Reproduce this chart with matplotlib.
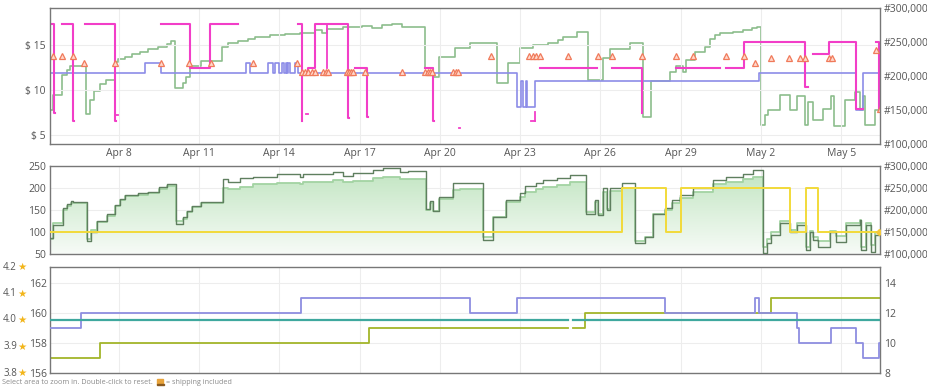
import numpy as np
import matplotlib
matplotlib.use('Agg')
import matplotlib.pyplot as plt
import matplotlib.transforms as mtransforms
from matplotlib.colors import LinearSegmentedColormap
from matplotlib.patches import Rectangle

# Plot settings
plt.rcParams['font.family'] = ['Open Sans', 'DejaVu Sans']
plt.rcParams['font.size'] = 7.5

# x axis: day of month, Apr 1 = 1, May 2 = 32
XMIN, XMAX = 5.43, 36.45
TICK_DAYS = [8, 11, 14, 17, 20, 23, 26, 29, 32, 35]
TICK_LABELS = ['Apr 8', 'Apr 11', 'Apr 14', 'Apr 17', 'Apr 20', 'Apr 23',
               'Apr 26', 'Apr 29', 'May 2', 'May 5']

# ---- top panel: sales rank (thousands, right axis) ----
rank_days = [5.43, 5.56, 5.87, 6.06, 6.18, 6.78, 6.93, 7.09, 7.28, 7.53,
             7.86, 7.99, 8.24, 8.49, 8.80, 9.11, 9.48, 9.79, 9.94, 10.12,
             10.40, 10.53, 10.65, 11.09, 11.86, 12.08, 12.46, 12.83, 13.09, 13.65,
             14.21, 14.77, 15.33, 15.59, 15.78, 16.38, 17.09, 17.46, 17.84, 18.21,
             18.58, 19.44, 19.74, 19.95, 20.56, 21.12, 22.12, 22.55, 22.99, 23.49,
             24.04, 24.41, 24.60, 25.11, 25.54, 26.10, 26.35, 27.10, 27.60, 27.91,
             28.59, 28.84, 29.09, 29.19, 29.53, 29.90, 30.09, 30.28, 30.46, 30.95,
             31.32, 31.66, 31.84, 32.02, 32.14, 32.26, 32.70, 33.08, 33.33, 33.64,
             33.76, 33.95, 34.32, 34.63, 34.72, 35.13, 35.50, 35.69, 35.80, 35.88,
             36.25, 36.45]
rank_vals = [150, 172, 201, 209, 215, 144, 165, 178, 188, 194,
             221, 225, 228, 233, 236, 239, 243, 247, 252, 182,
             190, 199, 215, 222, 243, 248, 251, 254, 258, 260,
             262, 263, 268, 263, 269, 272, 274, 270, 275, 277,
             272, 212, 199, 228, 241, 249, 189, 219, 241, 246,
             249, 253, 257, 264, 194, 226, 239, 249, 140, 192,
             206, 215, 206, 223, 236, 243, 255, 260, 263, 265,
             268, 271, 272, 128, 143, 150, 172, 150, 170, 128,
             162, 135, 152, 170, 126, 165, 177, 150, 171, 128,
             150, 150]

# new price ($)
new_days = [5.43, 8.98, 9.57, 12.74, 12.92, 13.59, 13.78, 13.84, 13.99, 14.09,
            14.19, 14.24, 14.30, 14.33, 14.40, 14.60, 14.71, 22.87, 23.02, 23.12,
            23.21, 23.27, 23.55, 31.92, 35.57, 35.82, 36.45]
new_vals = [11.9, 13.0, 11.9, 13.0, 11.9, 13.0, 11.9, 13.0, 11.9, 13.0,
            11.9, 13.0, 11.9, 13.0, 11.9, 13.0, 11.9, 8.1, 11.0, 8.1,
            11.0, 8.1, 11.0, 11.9, 7.8, 11.9, 11.9]

# buy box ($), nan = no data
nan = np.nan
bb_days = [5.43, 5.58, 5.62, 5.86, 6.29, 6.31, 6.73, 7.85, 7.88,
           9.59, 10.65, 11.42, 12.46, 14.71, 14.84, 14.85,
           14.85, 15.08, 15.33, 16.58, 16.60, 16.83, 17.26, 17.33,
           19.44, 19.75, 19.78, 23.74, 25.86, 26.42, 27.54, 27.57,
           28.84, 30.46, 30.71, 31.36, 33.64, 33.76,
           33.93, 34.54, 35.57, 35.82, 36.31, 36.42, 36.45]
bb_vals = [17.3, 7.4, nan, 17.3, 6.5, nan, 17.3, 6.5, nan,
           17.3, 12.45, 17.3, nan, 17.3, 6.5, nan,
           11.85, 12.4, 17.3, 6.85, nan, 12.4, 7.0, nan,
           12.4, 6.5, nan, 12.4, nan, 12.4, 7.4, nan,
           12.4, nan, 12.4, 15.3, 10.3, nan,
           14.0, 15.3, 7.85, nan, 15.3, 7.85, nan]
# short buy box fragments: x0, x1, y0, y1
bit_x0 = [7.86, 15.00, 20.71, 23.40, 23.57, 15.77]
bit_x1 = [7.97, 15.07, 20.76, 23.57, 23.57, 15.77]
bit_y0 = [7.2, 7.3, 5.8, 6.5, 6.5, 12.4]
bit_y1 = [7.2, 7.3, 5.8, 6.5, 7.5, 17.3]

# offer markers ($)
tri_days = [5.56, 5.87, 6.30, 6.71, 7.86, 9.58, 10.63, 11.44, 13.01, 14.65,
            14.84, 14.96, 15.08, 15.21, 15.33, 15.64, 15.74, 15.83, 16.52, 16.60,
            16.68, 16.76, 17.20, 18.57, 19.44, 19.54, 19.63, 19.72, 20.50, 20.60,
            20.69, 21.93, 23.34, 23.48, 23.61, 23.74, 24.80, 25.92, 26.42, 27.57,
            28.84, 29.46, 30.69, 31.37, 31.77, 32.36, 33.04, 33.45, 33.64, 34.54,
            34.65, 36.29, 36.44]
tri_vals = [13.8, 13.8, 13.8, 13.0, 13.0, 13.0, 13.0, 13.0, 13.0, 13.0,
            12.0, 12.0, 12.0, 12.0, 12.0, 12.0, 12.0, 12.0, 12.0, 12.0,
            12.0, 12.0, 12.0, 12.0, 12.0, 12.0, 12.0, 12.0, 12.0, 12.0,
            12.0, 13.8, 13.8, 13.8, 13.8, 13.8, 13.8, 13.8, 13.8, 13.8,
            13.8, 13.8, 13.8, 13.8, 13.0, 13.5, 13.5, 13.5, 13.5, 13.5,
            13.5, 14.4, 7.85]

# ---- middle panel ----
mid_days = [5.43, 5.56, 5.91, 6.06, 6.21, 6.30, 6.80, 6.95, 7.18, 7.55,
            7.86, 8.05, 8.24, 8.73, 9.11, 9.52, 9.79, 10.13, 10.41, 10.56,
            10.73, 11.06, 11.89, 12.09, 12.53, 13.03, 13.90, 14.77, 14.90, 16.02,
            16.39, 16.76, 17.51, 17.88, 18.51, 18.82, 19.48, 19.63, 19.75, 19.98,
            20.50, 20.75, 21.62, 21.99, 22.49, 22.99, 23.18, 23.61, 23.86, 24.36,
            24.86, 25.46, 25.79, 25.92, 26.10, 26.23, 26.35, 26.79, 27.29, 27.66,
            27.97, 28.41, 28.66, 28.97, 29.46, 30.21, 30.71, 31.33, 31.71, 32.08,
            32.21, 32.39, 32.70, 33.08, 33.33, 33.70, 33.82, 33.95, 34.13, 34.57,
            34.82, 35.19, 35.69, 35.75, 35.94, 36.13, 36.25, 36.45]
mid_dark = [86, 116, 154, 164, 171, 169, 80, 101, 126, 140,
            161, 174, 184, 188, 192, 202, 209, 118, 135, 148,
            159, 169, 220, 214, 222, 226, 232, 224, 232, 237,
            227, 233, 241, 245, 237, 239, 152, 171, 148, 180,
            211, 212, 82, 135, 173, 188, 204, 211, 218, 222,
            230, 142, 173, 139, 199, 150, 199, 211, 74, 89,
            142, 154, 173, 184, 199, 218, 226, 232, 241, 52,
            74, 93, 121, 100, 116, 59, 100, 82, 66, 100,
            78, 116, 127, 59, 116, 55, 93, 93]
mid_light = [85, 121, 150, 160, 166, 166, 85, 105, 122, 137,
             158, 172, 182, 185, 188, 198, 205, 125, 130, 145,
             157, 167, 199, 197, 203, 208, 212, 210, 214, 218,
             214, 216, 222, 225, 220, 221, 151, 165, 148, 175,
             195, 197, 89, 135, 168, 180, 192, 198, 203, 207,
             214, 145, 168, 142, 192, 152, 194, 200, 80, 89,
             140, 150, 165, 178, 190, 208, 214, 220, 226, 65,
             85, 100, 124, 105, 120, 65, 103, 88, 80, 103,
             90, 120, 128, 65, 120, 70, 100, 100]
yel_days = [5.43, 26.79, 28.47, 29.03, 33.08, 33.70, 34.13, 36.45]
yel_vals = [100, 200, 100, 200, 100, 200, 100, 100]

# ---- bottom panel ----
rating_days = [5.43, 19.70, 19.78, 24.80, 24.98, 36.45]
rating_vals = [4.0, nan, 4.0, nan, 4.0, 4.0]
purple_days = [5.43, 6.59, 14.81, 21.12, 22.87, 28.41, 31.77, 31.92, 33.35, 33.41,
               34.63, 35.57, 35.82, 36.42, 36.45]
purple_vals = [11, 12, 13, 12, 13, 12, 13, 12, 11, 10, 11, 10, 9, 10, 10]
olive_days = [5.43, 7.30, 17.36, 24.80, 24.98, 25.42, 32.36, 36.45]
olive_vals = [157, 158, 159, nan, 159, 160, 161, 161]
star_ticks = [3.8, 3.9, 4.0, 4.1, 4.2]

TXT = '#555555'
GRID = '#ededed'


def style(ax, labels=False):
    for s in ax.spines.values():
        s.set_color('#777777')
        s.set_linewidth(1)
    ax.set_xlim(XMIN, XMAX)
    ax.set_xticks(TICK_DAYS)
    if labels:
        ax.set_xticklabels(TICK_LABELS)
    else:
        ax.set_xticklabels([])
    ax.tick_params(length=0, colors=TXT, pad=3)
    ax.grid(True, color=GRID, lw=0.8)
    ax.set_axisbelow(True)


def style_right(axr):
    for s in axr.spines.values():
        s.set_visible(False)
    axr.tick_params(length=0, colors=TXT, pad=3)


fig = plt.figure(figsize=(9.28, 3.87), dpi=100)
W, H = 928, 387
ax1 = fig.add_axes([50 / W, 1 - 144 / H, 830 / W, 136 / H])
ax2 = fig.add_axes([50 / W, 1 - 254 / H, 830 / W, 88 / H])
ax3 = fig.add_axes([50 / W, 1 - 373 / H, 830 / W, 106 / H])

# Top panel
style(ax1, labels=True)
ax1.set_ylim(4, 19.1)
ax1.set_yticks([5, 10, 15])
ax1.set_yticklabels(['$ 5', '$ 10', '$ 15'])
ax1r = ax1.twinx()
style_right(ax1r)
ax1r.set_ylim(100, 300)
ax1r.set_yticks([100, 150, 200, 250, 300])
ax1r.set_yticklabels([f'#{v},000' for v in [100, 150, 200, 250, 300]])
ax1r.plot(rank_days, rank_vals, drawstyle='steps-post', color='#8cbd8c', lw=1.2)
ax1.set_zorder(ax1r.get_zorder() + 1)
ax1.patch.set_visible(False)
ax1.plot(new_days, new_vals, drawstyle='steps-post', color='#8c8ce8', lw=1.2)
ax1.plot(bb_days, bb_vals, drawstyle='steps-post', color='#f23ec8', lw=1.5)
for x0, x1, y0, y1 in zip(bit_x0, bit_x1, bit_y0, bit_y1):
    ax1.plot([x0, x1], [y0, y1], color='#f23ec8', lw=1.3)
ax1.plot(tri_days, tri_vals, ls='none', marker='^', ms=4.5, mfc='#ffd8cc',
         mec='#f07a5a', mew=0.9)

# Middle panel
style(ax2)
ax2.set_ylim(50, 250)
ax2.set_yticks([50, 100, 150, 200, 250])
ax2r = ax2.twinx()
style_right(ax2r)
ax2r.set_ylim(100, 300)
ax2r.set_yticks([100, 150, 200, 250, 300])
ax2r.set_yticklabels([f'#{v},000' for v in [100, 150, 200, 250, 300]])
fill = ax2.fill_between(mid_days, mid_light, 50, step='post',
                        facecolor='none', edgecolor='none')
cmap = LinearSegmentedColormap.from_list('g', ['#f7fbf7', '#bfe4bf'])
grad = np.linspace(0, 1, 256).reshape(-1, 1)
im = ax2.imshow(grad, extent=[XMIN, XMAX, 50, 250], origin='lower',
                aspect='auto', cmap=cmap, zorder=1)
im.set_clip_path(fill.get_paths()[0], transform=ax2.transData)
ax2.plot(mid_days, mid_light, drawstyle='steps-post', color='#a3d3a3', lw=1.3, zorder=2)
ax2.plot(mid_days, mid_dark, drawstyle='steps-post', color='#5f7f5f', lw=1.0, zorder=3)
ax2.plot(yel_days, yel_vals, drawstyle='steps-post', color='#f2da3a', lw=1.4, zorder=4)
ax2.plot([36.42], [100], ls='none', marker='D', ms=3, color='#f2c83a', zorder=5)
ax2.set_xlim(XMIN, XMAX)
ax2.set_ylim(50, 250)

# Bottom panel
style(ax3)
ax3.set_ylim(156, 163.07)
ax3.set_yticks([156, 158, 160, 162])
ax3.tick_params(axis='y', pad=2)
ax3r = ax3.twinx()
style_right(ax3r)
ax3r.set_ylim(8, 15.07)
ax3r.set_yticks([8, 10, 12, 14])
ax3s = ax3.twinx()
ax3s.set_ylim(3.8, 4.2)
ax3s.set_yticks([])
for s in ax3s.spines.values():
    s.set_visible(False)
ax3.plot(olive_days, olive_vals, drawstyle='steps-post', color='#a3b52a', lw=1.3)
ax3r.plot(purple_days, purple_vals, drawstyle='steps-post', color='#8e8ee0', lw=1.3)
ax3s.plot(rating_days, rating_vals, drawstyle='steps-post', color='#3fa89e', lw=1.6)
ax3s.set_xlim(XMIN, XMAX)
trans = mtransforms.blended_transform_factory(fig.transFigure, ax3s.transData)
for r in star_ticks:
    ax3s.text(17 / W, r, f'{r:.1f}', transform=trans, ha='right', va='center',
              color=TXT, fontsize=7, clip_on=False)
    ax3s.text(17.5 / W, r, '\u2605', transform=trans, ha='left', va='center',
              color='#f2b51a', fontsize=7.5, family='DejaVu Sans', clip_on=False)

# Footer
fig.text(2 / W, 1 - 382 / H, 'Select area to zoom in. Double-click to reset.',
         fontsize=5.2, color='#8a8a8a', va='center')
fig.patches.append(Rectangle((157 / W, 1 - 384 / H), 6 / W, 5 / H,
                             transform=fig.transFigure, color='#e8a33a'))
fig.patches.append(Rectangle((157 / W, 1 - 385 / H), 7 / W, 1.5 / H,
                             transform=fig.transFigure, color='#8a5a20'))
fig.text(166 / W, 1 - 382 / H, '= shipping included',
         fontsize=5.2, color='#8a8a8a', va='center')

fig.savefig('out.png', dpi=100)
